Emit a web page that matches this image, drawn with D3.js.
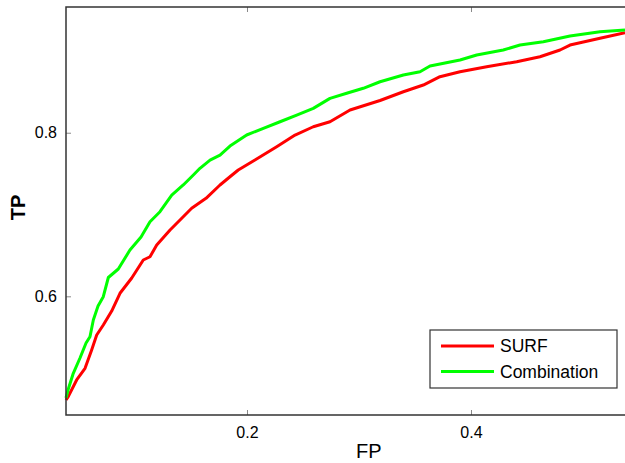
<!DOCTYPE html>
<html>
<head>
    <meta charset="utf-8">
    <script src="https://d3js.org/d3.v7.min.js"></script>
    <style>
        body { margin: 0; background: #fff; }
        text { font-family: "Liberation Sans", Arial, sans-serif; fill: #000; }
    </style>
</head>
<body></body>
<script>
    // ROC curves (FP, TP)
    var surfFP = [0.0384, 0.0404, 0.0479, 0.0554, 0.0613, 0.0658, 0.0717, 0.0792, 0.0866, 0.0971,
                  0.1074, 0.1134, 0.1194, 0.1313, 0.1402, 0.1506, 0.1634, 0.1759, 0.1848, 0.1922,
                  0.2071, 0.2265, 0.2429, 0.2592, 0.2741, 0.2920, 0.3188, 0.3396, 0.3574, 0.3723,
                  0.3902, 0.4140, 0.4408, 0.4616, 0.4795, 0.4884, 0.5152, 0.5375];
    var surfTP = [0.4732, 0.4773, 0.4977, 0.5120, 0.5344, 0.5527, 0.5649, 0.5820, 0.6037, 0.6224,
                  0.6444, 0.6484, 0.6627, 0.6811, 0.6933, 0.7076, 0.7198, 0.7361, 0.7462, 0.7544,
                  0.7666, 0.7829, 0.7972, 0.8073, 0.8134, 0.8278, 0.8394, 0.8501, 0.8583, 0.8685,
                  0.8746, 0.8807, 0.8868, 0.8929, 0.9011, 0.9072, 0.9154, 0.9222];

    var combFP = [0.0384, 0.0402, 0.0449, 0.0509, 0.0563, 0.0598, 0.0628, 0.0670, 0.0717, 0.0762,
                  0.0851, 0.0955, 0.1054, 0.1134, 0.1223, 0.1328, 0.1431, 0.1521, 0.1580, 0.1670,
                  0.1759, 0.1848, 0.1997, 0.2146, 0.2295, 0.2444, 0.2592, 0.2741, 0.2890, 0.3038,
                  0.3188, 0.3396, 0.3545, 0.3634, 0.3902, 0.4051, 0.4288, 0.4438, 0.4646, 0.4884,
                  0.5152, 0.5375];
    var combTP = [0.4757, 0.4854, 0.5059, 0.5246, 0.5429, 0.5506, 0.5710, 0.5881, 0.5995, 0.6230,
                  0.6334, 0.6566, 0.6725, 0.6912, 0.7034, 0.7238, 0.7361, 0.7483, 0.7565, 0.7666,
                  0.7727, 0.7837, 0.7972, 0.8054, 0.8134, 0.8216, 0.8298, 0.8420, 0.8482, 0.8543,
                  0.8623, 0.8705, 0.8746, 0.8815, 0.8889, 0.8950, 0.9011, 0.9072, 0.9112, 0.9182,
                  0.9235, 0.9256];

    var xTicks = [0.2, 0.4];
    var yTicks = [0.6, 0.8];
    var seriesNames = ["SURF", "Combination"];
    var seriesColors = ["#ff0000", "#00ff00"];

    var margin = {top: 7, right: 0, bottom: 48, left: 66},
        width = 625 - margin.left - margin.right,
        height = 463 - margin.top - margin.bottom;

    var svg = d3.select("body").append("svg")
        .attr("width", 625)
        .attr("height", 463)
      .append("g")
        .attr("transform", "translate(" + margin.left + "," + margin.top + ")");

    var x = d3.scaleLinear().domain([0.0384, 0.5375]).range([0, width]);
    var y = d3.scaleLinear().domain([0.4549, 0.9537]).range([height, 0]);

    // inward ticks, matlab style
    var axisStyle = function(g) {
        g.select(".domain").remove();
        g.selectAll(".tick line").attr("stroke", "#888").attr("stroke-width", 1);
        g.selectAll(".tick text").style("font-size", "16px");
    };

    svg.append("g")
        .attr("transform", "translate(0," + height + ")")
        .call(d3.axisBottom(x).tickValues(xTicks).tickSizeInner(-5).tickSizeOuter(0)
              .tickPadding(11.5).tickFormat(d3.format(".1f")))
        .call(axisStyle);
    svg.append("g")
        .call(d3.axisTop(x).tickValues(xTicks).tickSizeInner(-5).tickSizeOuter(0)
              .tickFormat(""))
        .call(axisStyle);
    svg.append("g")
        .call(d3.axisLeft(y).tickValues(yTicks).tickSizeInner(-5).tickSizeOuter(0)
              .tickPadding(9).tickFormat(d3.format(".1f")))
        .call(axisStyle);

    var line = d3.line()
        .x(function(d) { return x(d[0]); })
        .y(function(d) { return y(d[1]); });

    var series = [
        d3.zip(surfFP, surfTP),
        d3.zip(combFP, combTP)
    ];

    svg.selectAll(".curve").data(series).enter()
        .append("path")
        .attr("class", "curve")
        .attr("fill", "none")
        .attr("stroke", function(d, i) { return seriesColors[i]; })
        .attr("stroke-width", 3)
        .attr("stroke-linejoin", "round")
        .attr("d", line);

    // frame (left, top, bottom)
    svg.append("path")
        .attr("d", "M" + width + ",0H0V" + height + "H" + width)
        .attr("fill", "none")
        .attr("stroke", "#333")
        .attr("stroke-width", 1.5);

    // axis labels
    svg.append("text")
        .attr("x", x(0.3088))
        .attr("y", height + 43)
        .attr("text-anchor", "middle")
        .style("font-size", "20px")
        .text("FP");
    svg.append("text")
        .attr("transform", "translate(" + (-41) + "," + y(0.7086) + ") rotate(-90)")
        .attr("text-anchor", "middle")
        .style("font-size", "20px")
        .style("font-weight", "bold")
        .text("TP");

    // legend
    var legend = svg.append("g").attr("transform", "translate(" + (430 - margin.left) + "," + (330 - margin.top) + ")");
    legend.append("rect")
        .attr("width", 187).attr("height", 58)
        .attr("fill", "#fff").attr("stroke", "#333").attr("stroke-width", 1.2);
    var items = legend.selectAll(".item").data(seriesNames).enter()
        .append("g")
        .attr("transform", function(d, i) { return "translate(0," + (16 + i * 25.5) + ")"; });
    items.append("line")
        .attr("x1", 11).attr("x2", 64)
        .attr("stroke", function(d, i) { return seriesColors[i]; })
        .attr("stroke-width", 3);
    items.append("text")
        .attr("x", 70).attr("dy", "0.35em")
        .style("font-size", "17.5px")
        .text(function(d) { return d; });
</script>
</html>
